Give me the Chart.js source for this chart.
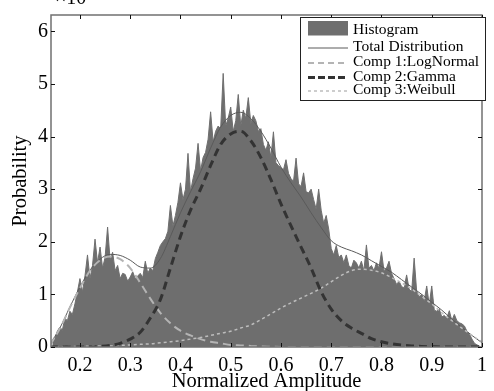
<!DOCTYPE html>
<html>
<head>
<meta charset="utf-8">
<script src="https://cdn.jsdelivr.net/npm/chart.js@4.4.0/dist/chart.umd.min.js"></script>
<style>
  html, body { margin: 0; padding: 0; background: #fff; }
  #wrap { width: 494px; height: 391px; position: relative; }
</style>
</head>
<body>
<div id="wrap"><canvas id="chart"></canvas></div>
<script>
// Values are in units of 1e-3 (axis shows x10^-3)
const binStart = 0.145;
const binWidth = 0.005;
const histCounts = [
    0.08, 0.15, 0.3, 0.38, 0.32, 0.55, 0.5, 0.68, 0.62, 0.82, 1.05, 1.3,
    1.05, 1.35, 1.75, 1.3, 1.55, 2.05, 1.6, 1.9, 1.5, 1.7,
    2.28, 1.65, 1.8, 1.45, 1.55, 1.3, 1.4, 1.38, 1.25, 1.33,
    1.43, 1.3, 1.35, 1.4, 1.32, 1.63, 1.4, 1.5, 1.45, 1.68,
    1.8, 1.93, 2.0, 2.06, 2.2, 2.69, 2.3, 2.5, 2.75, 3.12,
    2.8, 3.0, 3.68, 2.95, 3.2, 3.4, 3.87, 3.35, 3.6, 3.7,
    3.95, 4.47, 3.9, 4.1, 4.2, 4.15, 5.2, 4.2, 4.35, 4.56,
    4.1, 4.3, 4.8, 4.2, 4.5, 4.35, 4.74, 4.25, 4.4, 4.3,
    4.1, 4.15, 3.85, 3.74, 3.9, 3.6, 4.09, 3.5, 3.45, 3.4,
    3.37, 3.56, 3.3, 3.2, 3.15, 3.59, 3.1, 3.05, 3.31, 2.95,
    2.93, 3.0, 2.8, 2.62, 3.0, 2.6, 2.35, 2.5, 2.24, 1.87,
    1.75, 1.93, 1.7, 1.75, 1.6, 1.75, 1.55, 1.5, 1.65, 1.6,
    1.5, 1.63, 1.45, 1.94, 1.5, 1.55, 1.45, 1.6, 1.5, 1.81,
    1.45, 1.5, 1.63, 1.4, 1.3, 1.19, 1.25, 1.15, 1.12, 1.37,
    1.1, 1.05, 1.69, 1.06, 0.95, 1.0, 0.88, 1.16, 0.8, 1.16,
    0.7, 0.68, 0.72, 0.57, 0.6, 0.55, 0.69, 0.5, 0.62, 0.5,
    0.46, 0.44, 0.4, 0.3, 0.25, 0.15, 0.07, 0.04, 0.02
];

const curveX = [0.14, 0.16, 0.18, 0.20, 0.22, 0.24, 0.26, 0.28, 0.30, 0.32, 0.34,
    0.36, 0.38, 0.40, 0.42, 0.44, 0.46, 0.48, 0.50, 0.52, 0.54, 0.56,
    0.58, 0.60, 0.62, 0.64, 0.66, 0.68, 0.70, 0.72, 0.74, 0.76, 0.78,
    0.80, 0.82, 0.84, 0.86, 0.88, 0.90, 0.92, 0.94, 0.96, 0.98, 1.00];
const totalDist = [0.05, 0.36, 0.76, 1.14, 1.46, 1.67, 1.76, 1.74, 1.65, 1.52, 1.5,
    1.68, 2.1, 2.55, 2.95, 3.33, 3.78, 4.18, 4.4, 4.46, 4.34, 4.1,
    3.78, 3.42, 3.12, 2.85, 2.55, 2.27, 2.02, 1.9, 1.83, 1.75, 1.64,
    1.53, 1.42, 1.28, 1.14, 1.0, 0.85, 0.7, 0.53, 0.37, 0.22, 0.08];
const compLogNormal = [0.03, 0.35, 0.75, 1.12, 1.45, 1.65, 1.72, 1.67, 1.5, 1.22, 0.92,
    0.65, 0.45, 0.31, 0.22, 0.15, 0.1, 0.07, 0.04, 0.03, 0.02, 0.01,
    0.005, 0, 0, 0, 0, 0, 0, 0, 0, 0, 0,
    0, 0, 0, 0, 0, 0, 0, 0, 0, 0, 0];
const compGamma = [0, 0, 0, 0, 0, 0.01, 0.03, 0.07, 0.15, 0.28, 0.55,
    0.9, 1.5, 2.1, 2.6, 3.0, 3.45, 3.85, 4.05, 4.1, 3.92, 3.6,
    3.18, 2.72, 2.3, 1.9, 1.5, 1.05, 0.72, 0.5, 0.36, 0.26, 0.16,
    0.1, 0.06, 0.035, 0.02, 0.01, 0.005, 0, 0, 0, 0, 0];
const compWeibull = [0, 0.005, 0.01, 0.01, 0.015, 0.02, 0.02, 0.03, 0.04, 0.05, 0.06,
    0.08, 0.1, 0.12, 0.15, 0.18, 0.22, 0.26, 0.3, 0.36, 0.42, 0.52,
    0.63, 0.74, 0.84, 0.93, 1.02, 1.12, 1.24, 1.36, 1.45, 1.48, 1.46,
    1.41, 1.32, 1.22, 1.1, 0.96, 0.82, 0.65, 0.5, 0.36, 0.22, 0.1];

const xTicks = [0.2, 0.3, 0.4, 0.5, 0.6, 0.7, 0.8, 0.9, 1.0];
const xTickLabels = ['0.2', '0.3', '0.4', '0.5', '0.6', '0.7', '0.8', '0.9', '1'];
const yTicks = [0, 1, 2, 3, 4, 5, 6];
const yTickLabels = ['0', '1', '2', '3', '4', '5', '6'];

const legendLabels = ['Histogram', 'Total Distribution', 'Comp 1:LogNormal', 'Comp 2:Gamma', 'Comp 3:Weibull'];

const FONT = '"Liberation Serif", "Times New Roman", serif';
const HIST_COLOR = '#6e6e6e';

const toPoints = (xs, ys) => xs.map((x, i) => ({ x: x, y: ys[i] }));
const histPoints = histCounts.map((v, i) => ({ x: binStart + i * binWidth, y: v }));

// frame, inward ticks, titles and legend (MATLAB look)
const decorPlugin = {
    id: 'decor',
    afterDraw(chart) {
        const ctx = chart.ctx;
        const a = chart.chartArea;
        const xs = chart.scales.x, ys = chart.scales.y;
        ctx.save();

        // frame
        ctx.strokeStyle = '#707070';
        ctx.lineWidth = 1.5;
        ctx.strokeRect(a.left, a.top, a.right - a.left, a.bottom - a.top);

        // inward ticks
        ctx.strokeStyle = '#111';
        ctx.lineWidth = 1;
        ctx.beginPath();
        xTicks.forEach(v => {
            const px = Math.round(xs.getPixelForValue(v)) + 0.5;
            ctx.moveTo(px, a.top); ctx.lineTo(px, a.top + 4);
            ctx.moveTo(px, a.bottom); ctx.lineTo(px, a.bottom - 4);
        });
        yTicks.forEach(v => {
            const py = Math.round(ys.getPixelForValue(v)) + 0.5;
            ctx.moveTo(a.left, py); ctx.lineTo(a.left + 4, py);
            ctx.moveTo(a.right, py); ctx.lineTo(a.right - 4, py);
        });
        ctx.stroke();

        // axis titles
        ctx.fillStyle = '#000';
        ctx.font = '20.5px ' + FONT;
        ctx.textAlign = 'center';
        ctx.textBaseline = 'middle';
        ctx.fillText('Normalized Amplitude', (a.left + a.right) / 2, 382);
        ctx.save();
        ctx.translate(21, (a.top + a.bottom) / 2);
        ctx.rotate(-Math.PI / 2);
        ctx.fillText('Probability', 0, 0);
        ctx.restore();

        // exponent label, mostly off the top edge
        ctx.textAlign = 'left';
        ctx.textBaseline = 'alphabetic';
        ctx.font = '20px ' + FONT;
        ctx.fillText('\u00d710', 55, 4);
        ctx.font = '14px ' + FONT;
        ctx.fillText('-3', 86, -8);

        // legend
        const bx = 300.5, by = 17.5, bw = 185, bh = 83;
        ctx.fillStyle = '#fff';
        ctx.fillRect(bx, by, bw, bh);
        ctx.strokeStyle = '#222';
        ctx.lineWidth = 1;
        ctx.strokeRect(bx, by, bw, bh);

        const rows = [29.5, 47, 62, 76.5, 90];
        const sx0 = 308, sx1 = 348;
        ctx.fillStyle = HIST_COLOR;
        ctx.fillRect(sx0, 21, sx1 - sx0, 14.5);
        const ds = chart.data.datasets;
        [1, 2, 3, 4].forEach((d, k) => {
            const set = ds[d];
            ctx.beginPath();
            ctx.strokeStyle = set.borderColor;
            ctx.lineWidth = set.borderWidth;
            ctx.setLineDash(set.legendDash || []);
            const y = rows[k + 1] + 1;
            ctx.moveTo(sx0, y); ctx.lineTo(sx1, y);
            ctx.stroke();
        });
        ctx.setLineDash([]);
        ctx.fillStyle = '#000';
        ctx.font = '15.5px ' + FONT;
        ctx.textBaseline = 'middle';
        legendLabels.forEach((t, i) => ctx.fillText(t, 353, rows[i]));

        ctx.restore();
    }
};

const ctx = document.getElementById('chart').getContext('2d');
new Chart(ctx, {
    type: 'line',
    data: {
        datasets: [
            {
                label: legendLabels[0],
                data: histPoints,
                borderColor: HIST_COLOR,
                backgroundColor: HIST_COLOR,
                borderWidth: 1,
                fill: 'origin',
                pointRadius: 0,
                tension: 0,
                order: 5
            },
            {
                label: legendLabels[1],
                data: toPoints(curveX, totalDist),
                borderColor: '#5a5a5a',
                borderWidth: 1,
                fill: false,
                pointRadius: 0,
                cubicInterpolationMode: 'monotone',
                order: 4
            },
            {
                label: legendLabels[2],
                data: toPoints(curveX, compLogNormal),
                borderColor: '#b4b4b4',
                borderWidth: 2,
                borderDash: [8, 5],
                legendDash: [6, 4],
                fill: false,
                pointRadius: 0,
                cubicInterpolationMode: 'monotone',
                order: 2
            },
            {
                label: legendLabels[3],
                data: toPoints(curveX, compGamma),
                borderColor: '#333333',
                borderWidth: 3,
                borderDash: [8, 5],
                legendDash: [7, 3],
                fill: false,
                pointRadius: 0,
                cubicInterpolationMode: 'monotone',
                order: 1
            },
            {
                label: legendLabels[4],
                data: toPoints(curveX, compWeibull),
                borderColor: '#bdbdbd',
                borderWidth: 1.5,
                borderDash: [3, 3],
                legendDash: [3, 3],
                fill: false,
                pointRadius: 0,
                cubicInterpolationMode: 'monotone',
                order: 3
            }
        ]
    },
    options: {
        responsive: true,
        maintainAspectRatio: false,
        animation: false,
        layout: { padding: { top: 9, right: 7, left: 0, bottom: 0 } },
        plugins: {
            legend: { display: false },
            tooltip: { enabled: false }
        },
        scales: {
            x: {
                type: 'linear',
                min: 0.1424,
                max: 1.0,
                grid: { display: false, drawTicks: false },
                border: { display: false },
                afterBuildTicks: axis => { axis.ticks = xTicks.map(v => ({ value: v })); },
                afterFit: axis => { axis.height = 44; },
                ticks: {
                    padding: 7,
                    color: '#000',
                    font: { family: FONT, size: 20 },
                    maxRotation: 0,
                    autoSkip: false,
                    callback: (value, index) => xTickLabels[index]
                }
            },
            y: {
                type: 'linear',
                min: 0,
                max: 6.31,
                grid: { display: false, drawTicks: false },
                border: { display: false },
                afterBuildTicks: axis => { axis.ticks = yTicks.map(v => ({ value: v })); },
                afterFit: axis => { axis.width = 51; },
                ticks: {
                    padding: 3,
                    color: '#000',
                    font: { family: FONT, size: 20 },
                    autoSkip: false,
                    callback: (value, index) => yTickLabels[index]
                }
            }
        }
    },
    plugins: [decorPlugin]
});
</script>
</body>
</html>
